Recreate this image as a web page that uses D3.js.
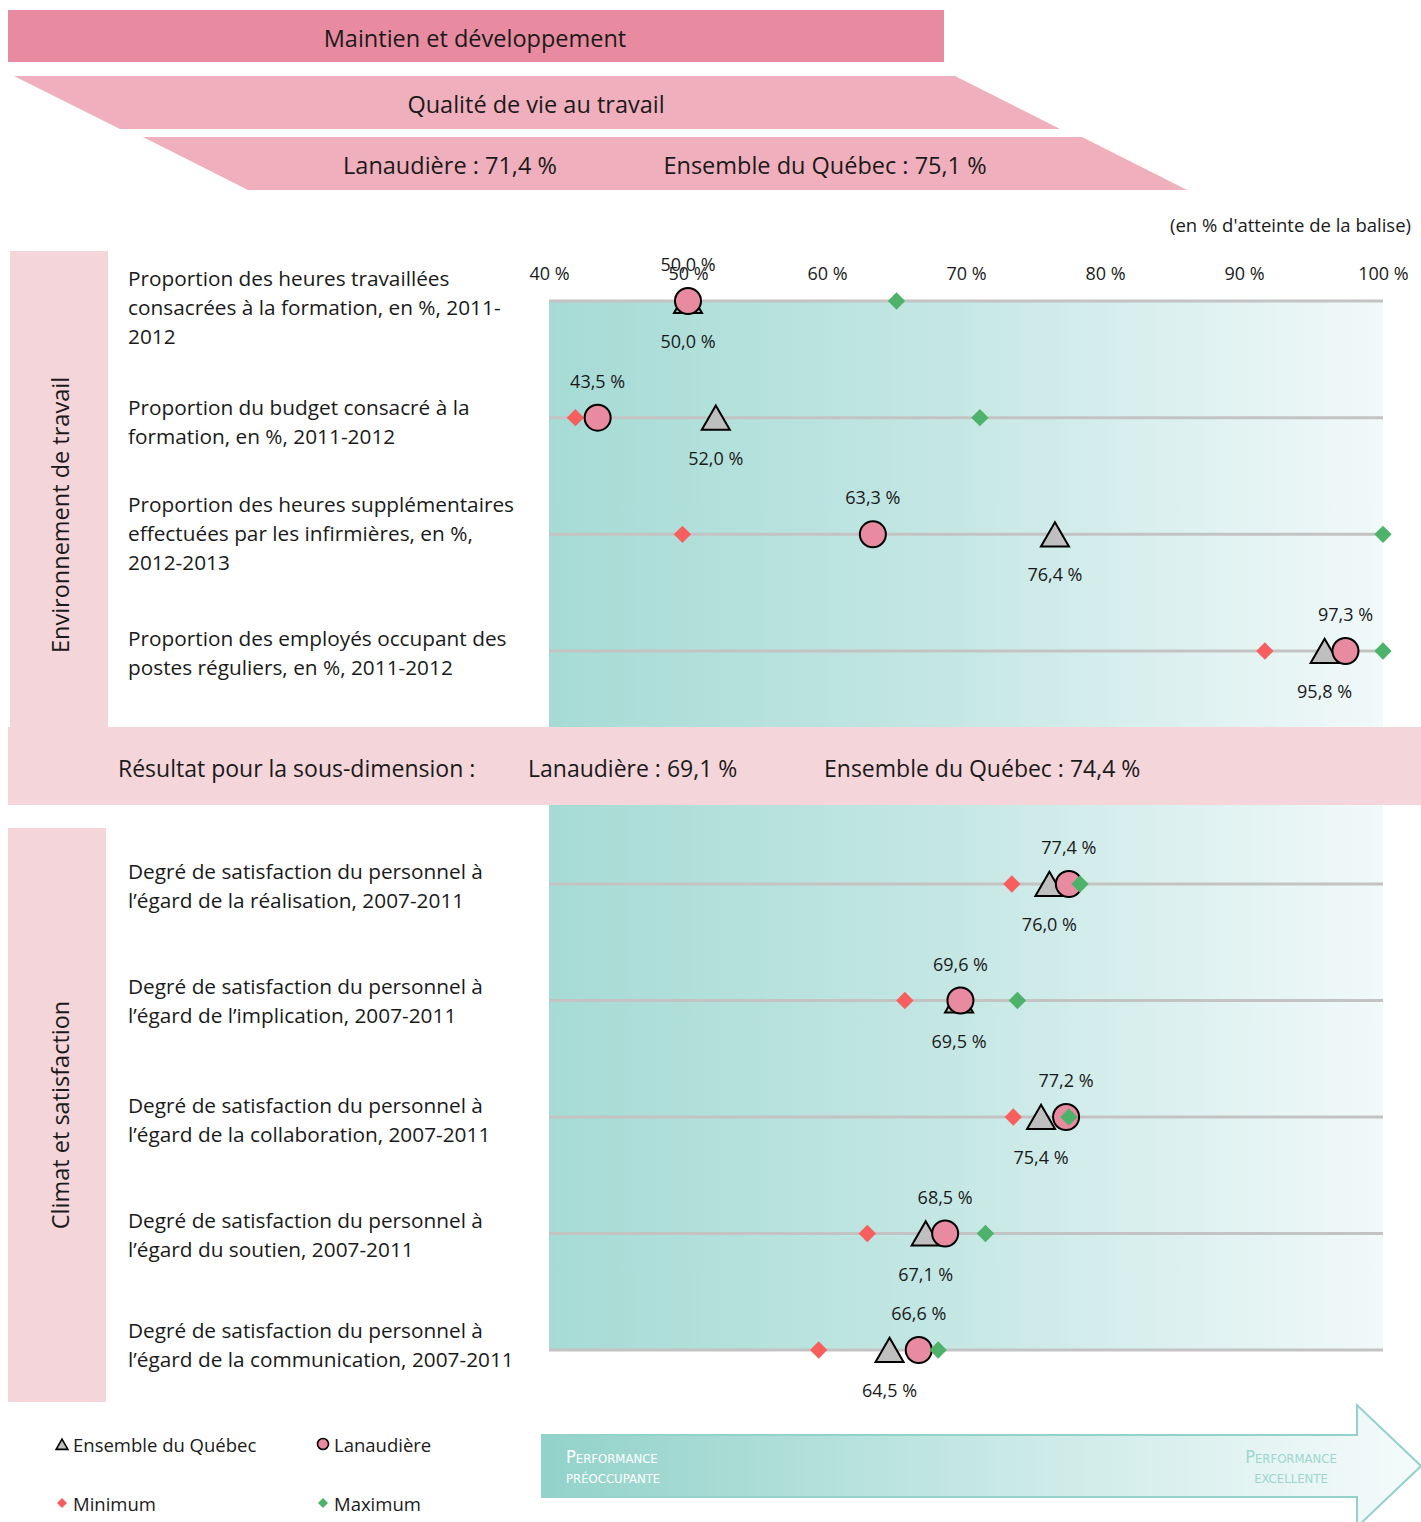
<!DOCTYPE html>
<html><head><meta charset="utf-8">
<script src="https://cdn.jsdelivr.net/npm/d3@7"></script>
<style>body{margin:0;background:#fff}svg{display:block;font-family:"Open Sans",Lato,sans-serif}</style>
</head><body>
<script>
// ---------- DATA ----------
const panel1Labels = [
  ["Proportion des heures travaillées","consacrées à la formation, en %, 2011-","2012"],
  ["Proportion du budget consacré à la","formation, en %, 2011-2012"],
  ["Proportion des heures supplémentaires","effectuées par les infirmières, en %,","2012-2013"],
  ["Proportion des employés occupant des","postes réguliers, en %, 2011-2012"]
];
const panel1Lanaudiere = [50.0, 43.5, 63.3, 97.3];
const panel1Quebec     = [50.0, 52.0, 76.4, 95.8];
const panel1Min        = [50.0, 41.9, 49.6, 91.5];
const panel1Max        = [65.0, 71.0, 100.0, 100.0];

const panel2Labels = [
  ["Degré de satisfaction du personnel à","l’égard de la réalisation, 2007-2011"],
  ["Degré de satisfaction du personnel à","l’égard de l’implication, 2007-2011"],
  ["Degré de satisfaction du personnel à","l’égard de la collaboration, 2007-2011"],
  ["Degré de satisfaction du personnel à","l’égard du soutien, 2007-2011"],
  ["Degré de satisfaction du personnel à","l’égard de la communication, 2007-2011"]
];
const panel2Lanaudiere = [77.4, 69.6, 77.2, 68.5, 66.6];
const panel2Quebec     = [76.0, 69.5, 75.4, 67.1, 64.5];
const panel2Min        = [73.3, 65.6, 73.4, 62.9, 59.4];
const panel2Max        = [78.2, 73.7, 77.4, 71.4, 68.0];

const tickValues = [40, 50, 60, 70, 80, 90, 100];
const panelTitles = ["Environnement de travail", "Climat et satisfaction"];
const headerTitle = "Maintien et développement";
const subTitle = "Qualité de vie au travail";
const globalResults = ["Lanaudière : 71,4 %", "Ensemble du Québec : 75,1 %"];
const subResults = ["Résultat pour la sous-dimension :", "Lanaudière : 69,1 %", "Ensemble du Québec : 74,4 %"];
const unitNote = "(en % d'atteinte de la balise)";
const legendItems = ["Ensemble du Québec", "Lanaudière", "Minimum", "Maximum"];

// ---------- STYLE / LAYOUT ----------
const C = {
  header: "#e88ba0", para: "#f0afbc", panel: "#f4d5da",
  circle: "#e88ba0", tri: "#bfbfbf", min: "#f75f5f", max: "#4db36a",
  grid: "#c3c3c3", text: "#1a1a1a"
};
const labelNudge1 = [6, 3.5, -1, 1.5];
const labelNudge2 = [1.5, 0, 2.5, 0.5, -5.5];
const W = 1421, H = 1522;
const svg = d3.select("body").append("svg").attr("width", W).attr("height", H);
const defs = svg.append("defs");
const g1 = defs.append("linearGradient").attr("id","bg").attr("x1","0").attr("x2","1").attr("y1","0").attr("y2","0");
g1.append("stop").attr("offset","0").attr("stop-color","#a6dbd5");
g1.append("stop").attr("offset","0.45").attr("stop-color","#c2e6e3");
g1.append("stop").attr("offset","1").attr("stop-color","#f1f9f9");
const g2 = defs.append("linearGradient").attr("id","arrowg").attr("x1","0").attr("x2","1").attr("y1","0").attr("y2","0");
g2.append("stop").attr("offset","0").attr("stop-color","#92d2ca");
g2.append("stop").attr("offset","0.5").attr("stop-color","#c6e8e4");
g2.append("stop").attr("offset","1").attr("stop-color","#f5fbfb");

const x = d3.scaleLinear().domain([40, 100]).range([549, 1383]);

// ---------- HEADER ----------
svg.append("rect").attr("x",8).attr("y",10).attr("width",936).attr("height",52).attr("fill",C.header);
svg.append("text").attr("x",475).attr("y",38).attr("text-anchor","middle").attr("dominant-baseline","central")
  .attr("font-size",23.5).attr("fill",C.text).text(headerTitle);
svg.append("path").attr("d","M14,76 L955,76 L1060,129 L120,129 Z").attr("fill",C.para);
svg.append("text").attr("x",536).attr("y",104).attr("text-anchor","middle").attr("dominant-baseline","central")
  .attr("font-size",23.5).attr("fill",C.text).text(subTitle);
svg.append("path").attr("d","M143,137 L1082,137 L1187,190 L248,190 Z").attr("fill",C.para);
svg.append("text").attr("x",450).attr("y",165).attr("text-anchor","middle").attr("dominant-baseline","central")
  .attr("font-size",23.5).attr("fill",C.text).text(globalResults[0]);
svg.append("text").attr("x",825).attr("y",165).attr("text-anchor","middle").attr("dominant-baseline","central")
  .attr("font-size",23.5).attr("fill",C.text).text(globalResults[1]);

svg.append("text").attr("x",1411).attr("y",224).attr("text-anchor","end").attr("dominant-baseline","central")
  .attr("font-size",18.5).attr("fill",C.text).text(unitNote);

// ---------- PANELS ----------
svg.append("rect").attr("x",10).attr("y",251).attr("width",98).attr("height",476).attr("fill",C.panel);
svg.append("rect").attr("x",8).attr("y",828).attr("width",98).attr("height",574).attr("fill",C.panel);
svg.append("rect").attr("x",x(40)).attr("y",301).attr("width",x(100)-x(40)).attr("height",426).attr("fill","url(#bg)");
svg.append("rect").attr("x",x(40)).attr("y",805).attr("width",x(100)-x(40)).attr("height",545).attr("fill","url(#bg)");
svg.append("rect").attr("x",8).attr("y",727).attr("width",1413).attr("height",78).attr("fill",C.panel);

[[60,515],[60,1115]].forEach((p,i)=>{
  svg.append("text").attr("transform",`translate(${p[0]},${p[1]}) rotate(-90)`)
    .attr("text-anchor","middle").attr("dominant-baseline","central").attr("font-size",23.5).attr("fill",C.text)
    .text(panelTitles[i]);
});

svg.append("text").attr("x",118).attr("y",768).attr("dominant-baseline","central").attr("font-size",23).attr("fill",C.text).text(subResults[0]);
svg.append("text").attr("x",528).attr("y",768).attr("dominant-baseline","central").attr("font-size",23).attr("fill",C.text).text(subResults[1]);
svg.append("text").attr("x",824).attr("y",768).attr("dominant-baseline","central").attr("font-size",23).attr("fill",C.text).text(subResults[2]);

// ---------- AXIS ----------
const axis = d3.axisTop(x).tickValues(tickValues).tickSize(0).tickFormat(d => d + " %");
const ag = svg.append("g").attr("transform","translate(0,273)").call(axis);
ag.select(".domain").remove();
ag.selectAll("text").attr("font-size",18).attr("fill",C.text).attr("font-family","'Open Sans', Lato, sans-serif")
  .attr("dy",null).attr("y",0).attr("dominant-baseline","central");

// ---------- ROWS ----------
const fmt = v => d3.format(".1f")(v).replace(".", ",") + " %";
function drawPanel(labels, lan, que, mn, mx, y0, y1, nudge) {
  const y = d3.scalePoint().domain(d3.range(labels.length)).range([y0, y1]);
  const rows = svg.append("g").selectAll("g").data(labels.map((l,i)=>({l,i,lan:lan[i],que:que[i],mn:mn[i],mx:mx[i]})))
    .join("g").attr("transform", d => `translate(0,${y(d.i)})`);
  rows.append("line").attr("x1",x(40)).attr("x2",x(100)).attr("y1",0).attr("y2",0).attr("stroke",C.grid).attr("stroke-width",3);
  rows.each(function(d){
    const gg = d3.select(this);
    const n = d.l.length, lh = 29;
    const t = gg.append("text").attr("font-size",20.8).attr("fill",C.text);
    d.l.forEach((s,k)=>{
      t.append("tspan").attr("x",128).attr("y", nudge[d.i] + (k - (n-1)/2) * lh).attr("dominant-baseline","central").text(s);
    });
  });
  const sym = (type, size) => d3.symbol().type(type).size(size)();
  rows.append("path").attr("transform", d => `translate(${x(d.mn)},0) rotate(45)`).attr("d", sym(d3.symbolSquare, 150)).attr("fill",C.min);
  rows.append("path").attr("transform", d => `translate(${x(d.que)},4)`).attr("d", sym(d3.symbolTriangle, 340))
    .attr("fill",C.tri).attr("stroke","#000").attr("stroke-width",2);
  rows.append("circle").attr("cx", d => x(d.lan)).attr("cy",0).attr("r",13)
    .attr("fill",C.circle).attr("stroke","#000").attr("stroke-width",2);
  rows.append("path").attr("transform", d => `translate(${x(d.mx)},0) rotate(45)`).attr("d", sym(d3.symbolSquare, 150)).attr("fill",C.max);
  rows.append("text").attr("x", d => x(d.lan)).attr("y",-37).attr("text-anchor","middle").attr("dominant-baseline","central")
    .attr("font-size",18).attr("fill",C.text).text(d => fmt(d.lan));
  rows.append("text").attr("x", d => x(d.que)).attr("y",40).attr("text-anchor","middle").attr("dominant-baseline","central")
    .attr("font-size",18).attr("fill",C.text).text(d => fmt(d.que));
}
drawPanel(panel1Labels, panel1Lanaudiere, panel1Quebec, panel1Min, panel1Max, 301, 651, labelNudge1);
drawPanel(panel2Labels, panel2Lanaudiere, panel2Quebec, panel2Min, panel2Max, 884, 1350, labelNudge2);

// ---------- LEGEND ----------
const lg = svg.append("g");
lg.append("path").attr("transform","translate(62,1446)").attr("d", d3.symbol().type(d3.symbolTriangle).size(60)())
  .attr("fill",C.tri).attr("stroke","#000").attr("stroke-width",1.6);
lg.append("circle").attr("cx",323).attr("cy",1444).attr("r",5.5).attr("fill",C.circle).attr("stroke","#000").attr("stroke-width",1.6);
lg.append("path").attr("transform","translate(62,1503) rotate(45)").attr("d", d3.symbol().type(d3.symbolSquare).size(50)()).attr("fill",C.min);
lg.append("path").attr("transform","translate(323,1503) rotate(45)").attr("d", d3.symbol().type(d3.symbolSquare).size(50)()).attr("fill",C.max);
[[73,1444,0],[334,1444,1],[73,1503,2],[334,1503,3]].forEach(p=>{
  lg.append("text").attr("x",p[0]).attr("y",p[1]).attr("dominant-baseline","central").attr("font-size",18.5).attr("fill",C.text).text(legendItems[p[2]]);
});

// ---------- ARROW ----------
svg.append("path").attr("d","M542,1435 L1357,1435 L1357,1405 L1421,1466 L1357,1527 L1357,1497 L542,1497 Z")
  .attr("fill","url(#arrowg)").attr("stroke","#92d2ca").attr("stroke-width",2);
const at = (xx, yy, s, anchor, col) => svg.append("text").attr("x",xx).attr("y",yy).attr("text-anchor",anchor)
  .attr("dominant-baseline","central").attr("font-size",18).attr("font-variant","small-caps")
  .attr("font-family","'Liberation Sans Narrow','DejaVu Sans Condensed',sans-serif").attr("fill",col).text(s);
at(566,1456,"Performance","start","#ffffff");
at(566,1476,"préoccupante","start","#ffffff");
at(1291,1456,"Performance","middle","#9ed6cf");
at(1291,1476,"excellente","middle","#9ed6cf");
</script>
</body></html>
